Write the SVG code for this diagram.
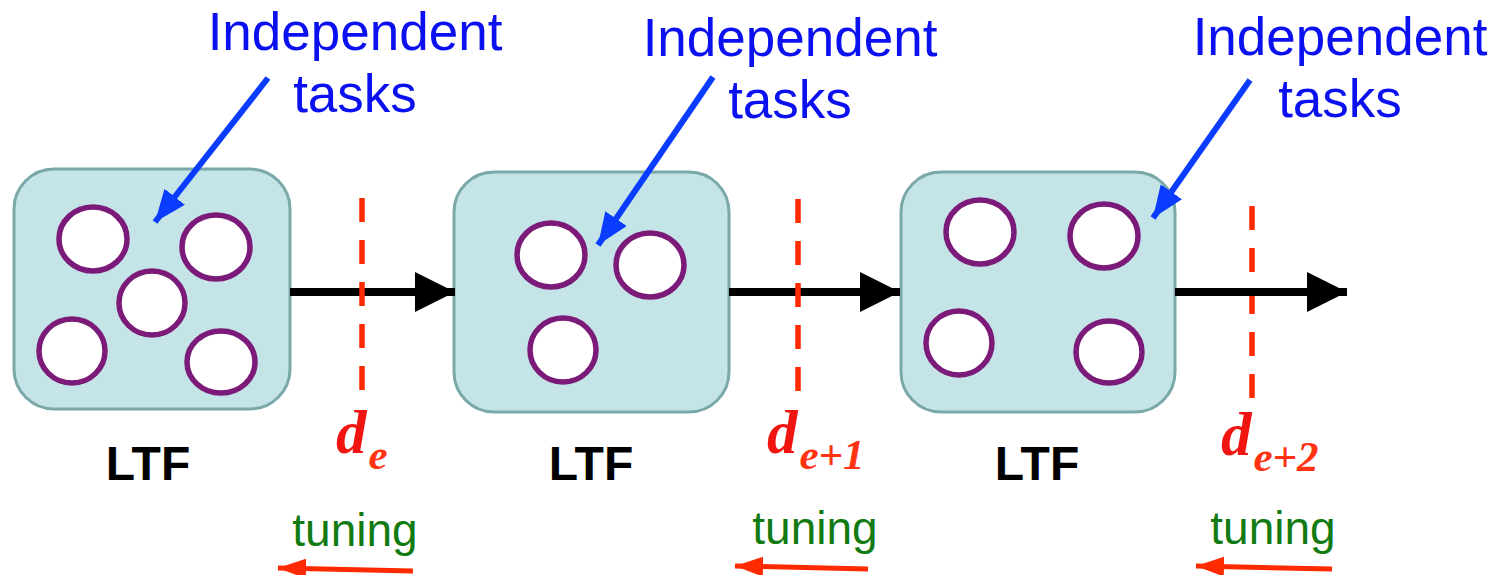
<svg xmlns="http://www.w3.org/2000/svg" width="1502" height="575" viewBox="0 0 1502 575">
<style>
.box{fill:#c4e4e8;stroke:#7aa8a8;stroke-width:3}
.task{fill:#fff;stroke:#7b1a78;stroke-width:5.5}
.lbl{font-family:"Liberation Sans",Arial,sans-serif;font-size:53px;fill:#0a10f0;text-anchor:middle}
.ltf{font-family:"Liberation Sans",Arial,sans-serif;font-size:48px;font-weight:bold;fill:#000;text-anchor:middle}
.tun{font-family:"Liberation Sans",Arial,sans-serif;font-size:46px;fill:#117a11;text-anchor:middle}
.d{font-family:"Liberation Serif","Times New Roman",serif;font-weight:bold;font-style:italic;fill:#f01510}
.dd{font-size:61px}
.ds{font-size:43px;fill:#ff3311}
.flow{stroke:#000;stroke-width:8;fill:none}
.dash{stroke:#ff2a00;stroke-width:5.5;stroke-dasharray:24 18;fill:none}
.ptr{stroke:#0a3cff;stroke-width:6;fill:none}
.tarr{stroke:#ff2a00;stroke-width:5;fill:none}
</style>
<defs>
<marker id="bh" markerUnits="userSpaceOnUse" markerWidth="44" markerHeight="44" refX="40" refY="20" orient="auto"><path d="M0,0 L40,20 L0,40 z" fill="#000"/></marker>
<marker id="ph" markerUnits="userSpaceOnUse" markerWidth="34" markerHeight="30" refX="32" refY="13" orient="auto"><path d="M0,0 L32,13 L0,26 z" fill="#0a3cff"/></marker>
<marker id="rh" markerUnits="userSpaceOnUse" markerWidth="30" markerHeight="22" refX="28" refY="10" orient="auto"><path d="M0,0 L28,10 L0,20 z" fill="#ff2a00"/></marker>
</defs>
<g id="ltf1">
<rect class="box" x="14" y="169" width="276" height="240" rx="40"/>
<ellipse class="task" cx="93" cy="239" rx="34" ry="32"/>
<ellipse class="task" cx="216" cy="247" rx="34" ry="32"/>
<ellipse class="task" cx="152" cy="303" rx="33" ry="32"/>
<ellipse class="task" cx="72" cy="351" rx="33" ry="32"/>
<ellipse class="task" cx="221" cy="362" rx="34" ry="31"/>
<text class="ltf" x="148" y="480">LTF</text>
</g>
<g id="ltf2">
<rect class="box" x="454" y="172" width="275" height="240" rx="40"/>
<ellipse class="task" cx="551" cy="255" rx="34" ry="32"/>
<ellipse class="task" cx="650" cy="265" rx="34" ry="32"/>
<ellipse class="task" cx="563" cy="350" rx="33" ry="32"/>
<text class="ltf" x="591" y="480">LTF</text>
</g>
<g id="ltf3">
<rect class="box" x="901" y="172" width="274" height="240" rx="40"/>
<ellipse class="task" cx="980" cy="232" rx="34" ry="32"/>
<ellipse class="task" cx="1104" cy="236" rx="34" ry="32"/>
<ellipse class="task" cx="959" cy="343" rx="33" ry="32"/>
<ellipse class="task" cx="1109" cy="352" rx="33" ry="31"/>
<text class="ltf" x="1037" y="480">LTF</text>
</g>
<g id="connectors">
<line class="flow" x1="290" y1="292" x2="455" y2="292" marker-end="url(#bh)"/>
<line class="flow" x1="729" y1="292" x2="900" y2="292" marker-end="url(#bh)"/>
<line class="dash" x1="362" y1="198" x2="362" y2="392"/>
<line class="dash" x1="798" y1="199" x2="798" y2="392"/>
<line class="dash" x1="1252" y1="206" x2="1252" y2="405"/>
<line class="flow" x1="1175" y1="292" x2="1347" y2="292" marker-end="url(#bh)"/>
<line class="ptr" x1="268" y1="78" x2="155" y2="222" marker-end="url(#ph)"/>
<line class="ptr" x1="713" y1="77" x2="598" y2="245" marker-end="url(#ph)"/>
<line class="ptr" x1="1250" y1="80" x2="1153" y2="218" marker-end="url(#ph)"/>
<line class="tarr" x1="413" y1="571" x2="278" y2="568" marker-end="url(#rh)"/>
<line class="tarr" x1="868" y1="569" x2="735" y2="566" marker-end="url(#rh)"/>
<line class="tarr" x1="1332" y1="569" x2="1196" y2="566" marker-end="url(#rh)"/>
</g>
<g id="label1"><text class="lbl" x="355" y="50">Independent</text><text class="lbl" x="355" y="112">tasks</text></g>
<g id="label2"><text class="lbl" x="790" y="56">Independent</text><text class="lbl" x="790" y="118">tasks</text></g>
<g id="label3"><text class="lbl" x="1340" y="55">Independent</text><text class="lbl" x="1340" y="117">tasks</text></g>
<g id="deadline1"><text class="d" x="336" y="453"><tspan class="dd">d</tspan><tspan class="ds" dx="2" dy="16">e</tspan></text></g>
<g id="deadline2"><text class="d" x="767" y="453"><tspan class="dd">d</tspan><tspan class="ds" dx="2" dy="16">e+1</tspan></text></g>
<g id="deadline3"><text class="d" x="1221" y="455"><tspan class="dd">d</tspan><tspan class="ds" dx="2" dy="16">e+2</tspan></text></g>
<g id="tuning1"><text class="tun" x="355" y="546">tuning</text></g>
<g id="tuning2"><text class="tun" x="815" y="544">tuning</text></g>
<g id="tuning3"><text class="tun" x="1273" y="544">tuning</text></g>
</svg>
